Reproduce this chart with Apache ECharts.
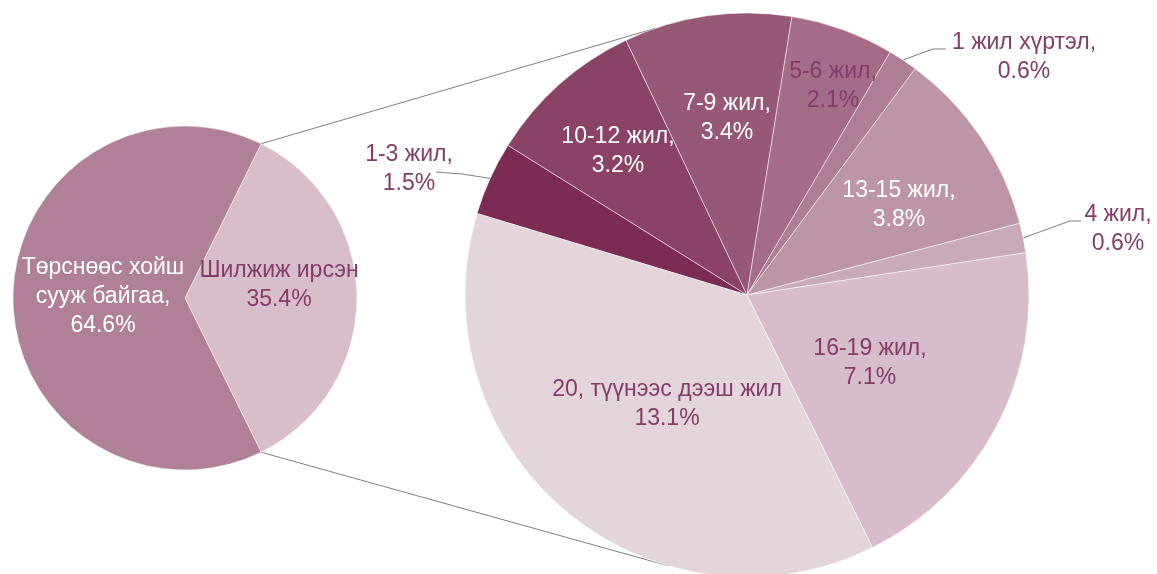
<!DOCTYPE html>
<html>
<head>
<meta charset="utf-8">
<script src="https://cdn.jsdelivr.net/npm/echarts@6/dist/echarts.min.js"></script>
<style>
  html, body { margin: 0; background: #fff; }
  #chart { width: 1157px; height: 574px; }
</style>
</head>
<body>
<div id="chart"></div>
<script>
// Main pie: share of residents
const mainNames = ['Шилжиж ирсэн', 'Төрснөөс хойш\nсууж байгаа'];
const mainValues = [35.4, 64.6];

// Secondary pie: how long the migrants have lived here
const subNames = ['1-3 жил', '10-12 жил', '7-9 жил', '5-6 жил', '1 жил хүртэл',
  '13-15 жил', '4 жил', '16-19 жил', '20, түүнээс дээш жил'];
const subValues = [1.5, 3.2, 3.4, 2.1, 0.6, 3.8, 0.6, 7.1, 13.1];

const mainColors = ['#D8BECB', '#AF8097'];
const subColors = ['#7B2B54', '#8A4266', '#975777', '#A46C88', '#AE7D96',
  '#BC95A8', '#C9AABA', '#D7BDCB', '#E4D5DD'];

const purple = '#843C68';
const font = "'Liberation Sans', Arial, sans-serif";

// layout
const leftC = [185, 298], leftR = 172;
const rightC = [747, 295], rightR = 282;
const rightStart = 163.2;
const leftStart = mainValues[0] / (mainValues[0] + mainValues[1]) * 180;

// label anchor points (centre of text block)
const mainLabelPos = [[279, 285], [103, 297]];
const subLabelPos = [[409, 169], [618, 151], [727, 118], [833, 86], [1024, 57],
  [899, 205], [1118, 229], [870, 363], [667, 404]];
const subWhite = [1, 2, 5];
// leader lines for outside labels: [bend point, end point]
const leaders = {
  0: [[462, 174], [436, 172]],
  4: [[933, 49], [946, 49]],
  6: [[1070, 221], [1081, 221]]
};

function fmt(p) {
  const sep = (p.name.indexOf('Шилжиж') === 0 || p.name.indexOf('20,') === 0) ? '\n' : ',\n';
  return p.name + sep + p.value.toFixed(1) + '%';
}

function pt(c, r, deg) {
  const a = deg * Math.PI / 180;
  return [c[0] + r * Math.cos(a), c[1] - r * Math.sin(a)];
}

// mid angle of each slice of the secondary pie (clockwise from rightStart)
const subTotal = subValues.reduce((a, b) => a + b, 0);
const subMid = [];
let acc = 0;
subValues.forEach(v => {
  subMid.push(rightStart - (acc + v / 2) / subTotal * 360);
  acc += v;
});

const chart = echarts.init(document.getElementById('chart'), null, { renderer: 'canvas' });

const topA = pt(leftC, leftR, leftStart), topB = pt(rightC, rightR, 109);
const botA = pt(leftC, leftR, -leftStart), botB = pt(rightC, rightR, -106);

chart.setOption({
  animation: false,
  backgroundColor: '#fff',
  graphic: [
    { type: 'line', shape: { x1: topA[0], y1: topA[1], x2: topB[0], y2: topB[1] },
      style: { stroke: '#808080', lineWidth: 1 }, z: -1 },
    { type: 'line', shape: { x1: botA[0], y1: botA[1], x2: botB[0], y2: botB[1] },
      style: { stroke: '#808080', lineWidth: 1 }, z: -1 }
  ],
  series: [
    {
      type: 'pie',
      center: leftC,
      radius: leftR,
      startAngle: leftStart,
      clockwise: true,
      data: mainNames.map((n, i) => ({
        name: n, value: mainValues[i],
        itemStyle: { color: mainColors[i] },
        label: { color: i === 1 ? '#fff' : purple }
      })),
      itemStyle: { borderColor: '#fff', borderWidth: 0.5 },
      label: {
        position: 'inside', formatter: fmt,
        fontFamily: font, fontSize: 23, lineHeight: 29, align: 'center'
      },
      labelLayout: p => ({ x: mainLabelPos[p.dataIndex][0], y: mainLabelPos[p.dataIndex][1],
        align: 'center', verticalAlign: 'middle' }),
      emphasis: { disabled: true }
    },
    {
      type: 'pie',
      center: rightC,
      radius: rightR,
      startAngle: rightStart,
      clockwise: true,
      data: subNames.map((n, i) => ({
        name: n, value: subValues[i],
        itemStyle: { color: subColors[i] },
        label: {
          position: leaders[i] ? 'outside' : 'inside',
          color: subWhite.includes(i) ? '#fff' : purple
        },
        labelLine: { show: !!leaders[i] }
      })),
      itemStyle: { borderColor: '#fff', borderWidth: 0.5 },
      label: {
        formatter: fmt,
        fontFamily: font, fontSize: 23, lineHeight: 29, align: 'center'
      },
      labelLine: { lineStyle: { color: '#808080', width: 1 }, length: 10, length2: 10 },
      labelLayout: p => {
        const i = p.dataIndex;
        const out = { x: subLabelPos[i][0], y: subLabelPos[i][1], align: 'center', verticalAlign: 'middle' };
        if (leaders[i]) {
          out.labelLinePoints = [pt(rightC, rightR, subMid[i]), leaders[i][0], leaders[i][1]];
        }
        return out;
      },
      emphasis: { disabled: true }
    }
  ]
});

window.addEventListener('resize', () => chart.resize());
</script>
</body>
</html>
